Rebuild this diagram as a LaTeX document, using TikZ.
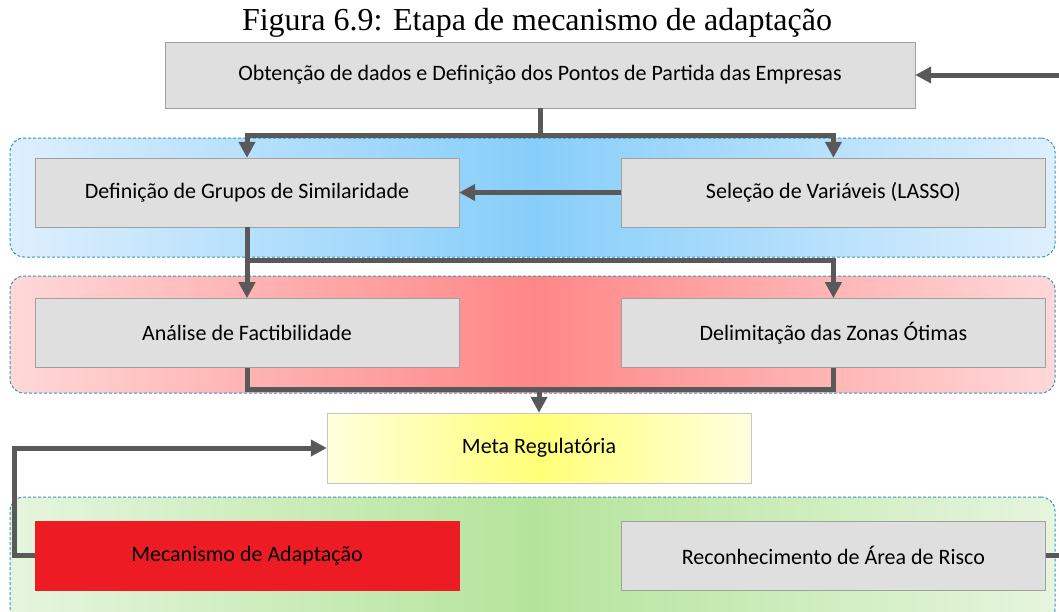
\documentclass[tikz,border=0pt]{standalone}
\usepackage{fontspec}
\setmainfont{Liberation Serif}
\newfontfamily\boxfont{Carlito}
\usetikzlibrary{arrows.meta,positioning}
\definecolor{boxgray}  {RGB}{223,223,223}
\definecolor{boxedge}  {RGB}{160,160,160}
\definecolor{flowgray} {RGB}{89, 89, 89}
\definecolor{panelline}{RGB}{50, 150,195}
\definecolor{bluemid}  {RGB}{135,206,250}
\definecolor{blueside} {RGB}{222,239,253}
\definecolor{redmid}   {RGB}{255,135,135}
\definecolor{redside}  {RGB}{255,216,216}
\definecolor{yelmid}   {RGB}{255,255,120}
\definecolor{yelside}  {RGB}{255,255,222}
\definecolor{greenmid} {RGB}{180,228,155}
\definecolor{greenside}{RGB}{230,245,222}
\definecolor{adaptred} {RGB}{237, 28, 36}
\tikzset{
  stagebox/.style={
    draw=boxedge, fill=boxgray, inner sep=0pt,
    minimum width=424pt, minimum height=69pt,
    font=\boxfont\fontsize{22}{26}\selectfont
  },
  panel/.style 2 args={
    draw=panelline, line width=1pt, dash pattern=on 3pt off 2pt,
    rounded corners=14pt,
    left color=#2, right color=#2, middle color=#1,
    minimum width=1045pt, minimum height=119pt, inner sep=0pt
  },
  flow/.style={
    draw=flowgray, line width=5pt,
    -{Triangle[length=16pt, width=16pt]}
  },
  link/.style={draw=flowgray, line width=5pt},
}

\begin{document}
\begin{tikzpicture}[x=1pt, y=-1pt]
\clip (0,0) rectangle (1059,611);

% ── Title ─────────────────────────────────────────────────────────────────────
\node[font=\fontsize{32}{35}\selectfont] (title) at (537,23)
  {Figura 6.9: Etapa de mecanismo de adaptação};

% ── Panels (background) ───────────────────────────────────────────────────────
\node[panel={bluemid}{blueside}] (bluepanel) at (532.5,197.5) {};
\node[panel={redmid}{redside}, minimum height=117pt] (redpanel) at (532.5,334.5) {};
\node[panel={greenmid}{greenside}, minimum height=126pt] (greenpanel) at (532.5,560) {};

% ── Stages ────────────────────────────────────────────────────────────────────
\node[stagebox, minimum width=750pt, minimum height=66pt] (obt) at (540,75)
  {Obtenção de dados e Definição dos Pontos de Partida das Empresas};

\node[stagebox] (defin) at (247,192.5) {Definição de Grupos de Similaridade};
\node[stagebox, right=162pt of defin] (selec) {Seleção de Variáveis (LASSO)};

\node[stagebox, below=71pt of defin] (anal) {Análise de Factibilidade};
\node[stagebox, right=162pt of anal] (delim) {Delimitação das Zonas Ótimas};

\node[stagebox, draw=boxedge!60, left color=yelside, right color=yelside,
      middle color=yelmid, minimum height=70pt] (meta) at (539,448)
  {Meta Regulatória};

\node[stagebox, draw=adaptred, fill=adaptred] (adapt) at (247,555.5)
  {Mecanismo de Adaptação};
\node[stagebox, right=162pt of adapt] (reco) {Reconhecimento de Área de Risco};

% ── Free ends at the right border ─────────────────────────────────────────────
\coordinate (inR)  at (1059,75);
\coordinate (outR) at (1059,555.5);

% ── Connectors ────────────────────────────────────────────────────────────────
\draw[flow] (inR) -- (obt.east);

\draw[flow] (obt.south) -- ++(0,27) -| (defin.north);
\draw[flow] (obt.south) -- ++(0,27) -| (selec.north);

\draw[flow] (selec.west) -- (defin.east);

\draw[flow] (defin.south) -- ++(0,33) -| (anal.north);
\draw[flow] (defin.south) -- ++(0,33) -| (delim.north);

\draw[link] (anal.south) -- ++(0,22) coordinate (joinA) -| (delim.south);
\draw[flow] (joinA -| meta.north) -- (meta.north);

\draw[flow] (adapt.west) -- ++(-20,0) |- (meta.west);

\draw[link] (reco.east) -- (outR);

\end{tikzpicture}
\end{document}
